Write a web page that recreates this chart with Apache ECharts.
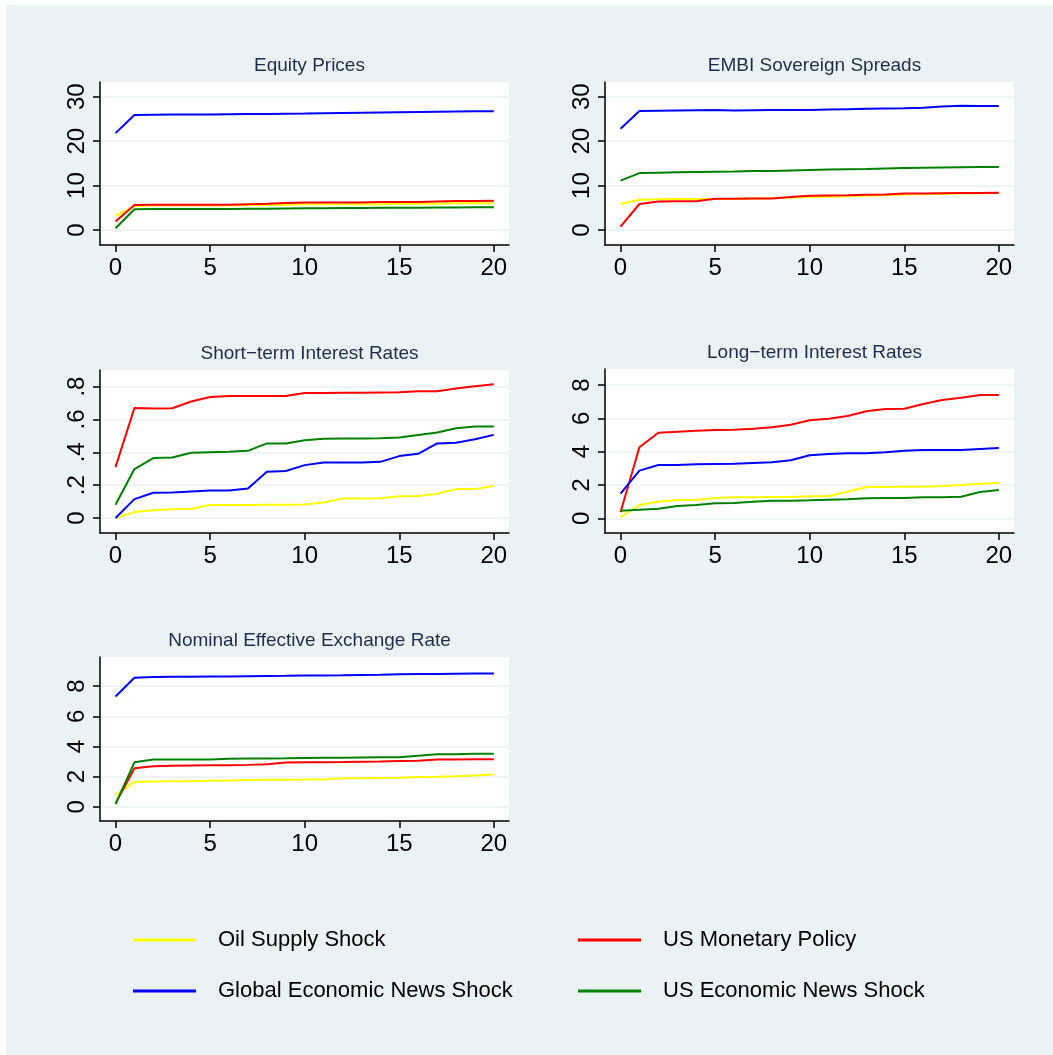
<!DOCTYPE html>
<html>
<head>
<meta charset="utf-8">
<script src="https://cdn.jsdelivr.net/npm/echarts@6/dist/echarts.min.js"></script>
<style>
html,body{margin:0;padding:0;background:#ffffff;}
#chart{width:1053px;height:1055px;}
</style>
</head>
<body>
<div id="chart"></div>
<script>
// Horizons (x categories)
var horizons = [0,1,2,3,4,5,6,7,8,9,10,11,12,13,14,15,16,17,18,19,20];

var seriesNames = ['Oil Supply Shock','US Monetary Policy','Global Economic News Shock','US Economic News Shock'];
var seriesColors = ['#ffff00','#ff0000','#0000ff','#008000'];

var panelTitles = ['Equity Prices','EMBI Sovereign Spreads','Short\u2212term Interest Rates','Long\u2212term Interest Rates','Nominal Effective Exchange Rate'];

// Equity Prices
var equityOil    = [3.2,5.4,5.5,5.5,5.5,5.5,5.5,5.6,5.6,5.7,5.8,5.8,5.8,5.8,5.8,5.9,5.9,5.9,6.0,6.0,6.0];
var equityMP     = [1.9,5.6,5.7,5.7,5.7,5.7,5.7,5.8,5.9,6.1,6.2,6.2,6.2,6.2,6.3,6.3,6.3,6.4,6.5,6.5,6.6];
var equityGlobal = [21.8,25.9,25.95,26.0,26.0,26.0,26.05,26.1,26.1,26.15,26.2,26.3,26.35,26.4,26.45,26.5,26.55,26.6,26.65,26.7,26.7];
var equityUS     = [0.4,4.65,4.7,4.7,4.7,4.7,4.75,4.8,4.8,4.85,4.9,4.9,4.95,4.95,5.0,5.0,5.0,5.05,5.05,5.1,5.1];

// EMBI Sovereign Spreads
var embiOil    = [5.85,6.8,6.9,6.95,7.0,7.0,7.05,7.1,7.15,7.25,7.4,7.5,7.6,7.7,7.8,8.0,8.05,8.1,8.2,8.25,8.3];
var embiMP     = [0.75,5.85,6.4,6.45,6.45,7.05,7.05,7.1,7.1,7.4,7.7,7.75,7.8,7.95,8.0,8.2,8.2,8.25,8.3,8.35,8.4];
var embiGlobal = [22.8,26.8,26.85,26.9,26.95,27.0,26.9,26.95,27.0,27.0,27.0,27.1,27.2,27.3,27.35,27.4,27.5,27.8,27.95,27.9,27.9];
var embiUS     = [11.1,12.8,12.9,13.0,13.05,13.1,13.15,13.25,13.3,13.4,13.5,13.6,13.65,13.7,13.85,13.95,14.0,14.05,14.1,14.15,14.2];

// Short-term Interest Rates
var stirOil    = [0,0.036,0.047,0.053,0.057,0.079,0.079,0.079,0.081,0.081,0.083,0.095,0.119,0.119,0.121,0.132,0.134,0.148,0.176,0.176,0.196];
var stirMP     = [0.31,0.670,0.666,0.668,0.709,0.737,0.743,0.743,0.743,0.743,0.761,0.761,0.763,0.763,0.764,0.765,0.772,0.772,0.788,0.802,0.814];
var stirGlobal = [0,0.115,0.154,0.156,0.162,0.168,0.168,0.180,0.282,0.286,0.322,0.338,0.338,0.338,0.342,0.377,0.391,0.454,0.458,0.480,0.506];
var stirUS     = [0.081,0.298,0.365,0.369,0.397,0.401,0.403,0.409,0.454,0.454,0.474,0.482,0.484,0.484,0.486,0.490,0.506,0.520,0.547,0.557,0.557];

// Long-term Interest Rates
var ltirOil    = [0.06,0.8,1.0,1.1,1.1,1.22,1.26,1.26,1.28,1.28,1.32,1.32,1.6,1.88,1.88,1.9,1.9,1.94,2.0,2.08,2.12];
var ltirMP     = [0.36,4.26,5.14,5.2,5.26,5.3,5.32,5.38,5.46,5.62,5.88,5.98,6.14,6.42,6.56,6.58,6.86,7.1,7.24,7.4,7.4];
var ltirGlobal = [1.48,2.86,3.2,3.2,3.24,3.26,3.28,3.32,3.36,3.48,3.78,3.86,3.9,3.9,3.96,4.06,4.1,4.1,4.1,4.16,4.22];
var ltirUS     = [0.46,0.52,0.58,0.74,0.8,0.9,0.92,1.0,1.06,1.06,1.08,1.12,1.14,1.2,1.22,1.22,1.26,1.26,1.3,1.58,1.7];

// Nominal Effective Exchange Rate
var neerOil    = [0.79,1.65,1.67,1.69,1.7,1.72,1.74,1.78,1.79,1.8,1.81,1.83,1.89,1.9,1.91,1.92,1.98,2.0,2.03,2.08,2.14];
var neerMP     = [0.22,2.56,2.69,2.73,2.74,2.75,2.76,2.78,2.82,2.93,2.95,2.96,2.97,2.99,3.01,3.04,3.06,3.13,3.14,3.15,3.15];
var neerGlobal = [7.31,8.55,8.61,8.62,8.62,8.63,8.64,8.66,8.67,8.68,8.7,8.71,8.72,8.74,8.76,8.79,8.8,8.81,8.82,8.83,8.83];
var neerUS     = [0.18,2.95,3.13,3.13,3.13,3.13,3.19,3.2,3.21,3.22,3.24,3.25,3.26,3.27,3.28,3.28,3.38,3.48,3.49,3.51,3.52];

// Tick labels
var xTicks = [0,5,10,15,20];
var yTicksEquity = [0,10,20,30];
var yTicksEmbi = [0,10,20,30];
var yTicksStir = [0,0.2,0.4,0.6,0.8];
var yTicksLtir = [0,2,4,6,8];
var yTicksNeer = [0,2,4,6,8];

var panelData = [
  [equityOil, equityMP, equityGlobal, equityUS],
  [embiOil, embiMP, embiGlobal, embiUS],
  [stirOil, stirMP, stirGlobal, stirUS],
  [ltirOil, ltirMP, ltirGlobal, ltirUS],
  [neerOil, neerMP, neerGlobal, neerUS]
];
var panelYTicks = [yTicksEquity, yTicksEmbi, yTicksStir, yTicksLtir, yTicksNeer];

// Layout (pixels)
var grids = [
  {left:100, top:82,  width:409, height:163},
  {left:605, top:82,  width:409, height:163},
  {left:100, top:370, width:409, height:163},
  {left:605, top:369, width:409, height:164},
  {left:100, top:657, width:409, height:164}
];
var yRanges = [[-3.38,33.31],[-3.38,33.31],[-0.0911,0.901],[-0.88,8.96],[-0.94,9.93]];

var FONT = '"Liberation Sans", Arial, Helvetica, sans-serif';

var chart = echarts.init(document.getElementById('chart'), null, {renderer:'canvas'});

var xAxes = [], yAxes = [], series = [], titles = [], bgRects = [];
bgRects.push({type:'rect', shape:{x:6, y:5, width:1047, height:1050}, style:{fill:'#eaf2f3'}, z:-10, silent:true});
for (var p = 0; p < 5; p++) {
  var g = grids[p];
  bgRects.push({type:'rect', shape:{x:g.left, y:g.top, width:g.width, height:g.height}, style:{fill:'#fff'}, z:-9, silent:true});
  xAxes.push({
    type:'value', gridIndex:p, min:-0.82, max:20.8,
    axisLine:{show:true, onZero:false, lineStyle:{color:'#000', width:1.5}},
    axisTick:{show:true, length:7, lineStyle:{color:'#000', width:1.5}, customValues:xTicks},
    axisLabel:{show:true, customValues:xTicks, fontSize:24, color:'#000', fontFamily:FONT, margin:11},
    splitLine:{show:false}
  });
  var yt = panelYTicks[p];
  yAxes.push({
    type:'value', gridIndex:p, min:yRanges[p][0], max:yRanges[p][1],
    axisLine:{show:true, onZero:false, lineStyle:{color:'#000', width:1.5}},
    axisTick:{show:true, length:7, lineStyle:{color:'#000', width:1.5}, customValues:yt},
    axisLabel:{show:true, customValues:yt, rotate:90, fontSize:24, color:'#000', fontFamily:FONT, margin:11,
      formatter:function(v){ if (Math.abs(v) < 1e-9) return '0'; var s = String(+v.toFixed(4)); return s.replace(/^0\./,'.'); }},
    splitLine:{show:true, lineStyle:{color:'#eaf2f3', width:1.5}}
  });
  titles.push({
    text: panelTitles[p], left: g.left + g.width/2, top: g.top - 31, textAlign:'center',
    textStyle:{fontSize:19, fontWeight:'normal', color:'#1e2d4f', fontFamily:FONT}
  });
  for (var s = 0; s < 4; s++) {
    var vals = panelData[p][s];
    var pts = [];
    for (var i = 0; i < horizons.length; i++) pts.push([horizons[i], vals[i]]);
    series.push({
      name: seriesNames[s], type:'line', xAxisIndex:p, yAxisIndex:p,
      data: pts, showSymbol:false, symbol:'none', animation:false,
      lineStyle:{color:seriesColors[s], width:2}, itemStyle:{color:seriesColors[s]}, z: 2+s
    });
  }
}

var legendPos = [
  {left:133, top:929},
  {left:578, top:929},
  {left:133, top:980},
  {left:578, top:980}
];
var legends = [];
for (var k = 0; k < 4; k++) {
  legends.push({
    data:[{name:seriesNames[k], icon:'rect'}], left:legendPos[k].left, top:legendPos[k].top,
    itemWidth:63, itemHeight:3, padding:0,
    textStyle:{fontSize:22, color:'#000', fontFamily:FONT, padding:[0,0,0,17]}
  });
}

chart.setOption({
  animation:false,
  backgroundColor:'#ffffff',
  graphic: bgRects,
  title: titles,
  legend: legends,
  grid: grids,
  xAxis: xAxes,
  yAxis: yAxes,
  series: series
});
</script>
</body>
</html>
